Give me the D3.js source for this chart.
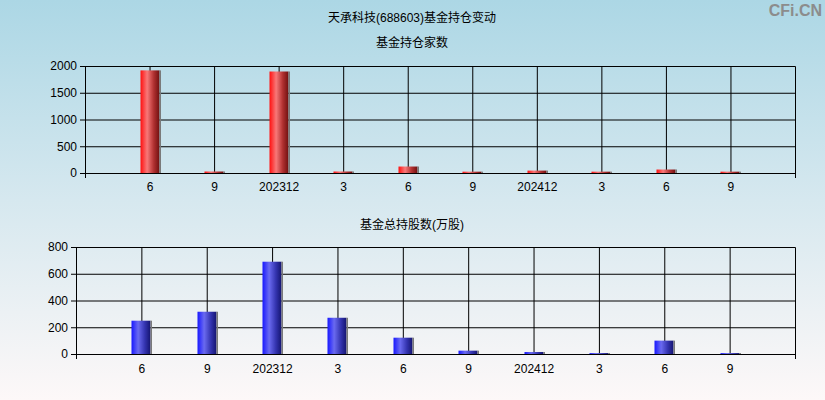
<!DOCTYPE html>
<html><head><meta charset="utf-8">
<script src="https://cdn.jsdelivr.net/npm/d3@7"></script>
<style>body{margin:0;padding:0;overflow:hidden}svg{display:block}text{font-family:"Liberation Sans",Arial,"Noto Sans CJK SC",sans-serif}</style>
</head><body>
<script>
// ---- data ----
const quarters   = ["2023-06","2023-09","2023-12","2024-03","2024-06","2024-09","2024-12","2025-03","2025-06","2025-09"];
const tickLabels = ["6","9","202312","3","6","9","202412","3","6","9"];
const fundCounts = [1918, 28, 1897, 28, 121, 25, 45, 25, 65, 25];
const fundShares = [249, 316, 690, 271, 122, 25, 15, 7, 100, 7];
const countTicks = [0, 500, 1000, 1500, 2000];
const shareTicks = [0, 200, 400, 600, 800];
const mainTitle = "天承科技(688603)基金持仓变动";
const countTitle = "基金持仓家数";
const shareTitle = "基金总持股数(万股)";

const W = 825, H = 400;
const svg = d3.select("body").append("svg").attr("width", W).attr("height", H);
const defs = svg.append("defs");

const bg = defs.append("linearGradient").attr("id","bg").attr("x1",0).attr("y1",0).attr("x2",0).attr("y2",1);
bg.append("stop").attr("offset","0%").attr("stop-color","#acd7e5");
bg.append("stop").attr("offset","50%").attr("stop-color","#d6e8ef");
bg.append("stop").attr("offset","100%").attr("stop-color","#fdf8f8");

function barGrad(id, c1, c2, c3, c4){
  const g = defs.append("linearGradient").attr("id",id).attr("x1",0).attr("y1",0).attr("x2",1).attr("y2",0);
  g.append("stop").attr("offset","0%").attr("stop-color",c1);
  g.append("stop").attr("offset","35%").attr("stop-color",c2);
  g.append("stop").attr("offset","70%").attr("stop-color",c3);
  g.append("stop").attr("offset","100%").attr("stop-color",c4);
}
barGrad("red", "#ff1010", "#f87878", "#b03030", "#701010");
barGrad("blue", "#1818ff", "#6a6af0", "#3434b0", "#141470");

svg.append("rect").attr("width",W).attr("height",H).attr("fill","url(#bg)");

svg.append("text").attr("x",412).attr("y",22).attr("text-anchor","middle").attr("font-size",12).attr("fill","#000").text(mainTitle);
svg.append("text").attr("x",822).attr("y",16).attr("text-anchor","end").attr("font-size",16).attr("font-weight","bold").attr("fill","#8c8c8c").text("CFi.CN");

function panel(cfg){
  const {left,right,top,bottom,values,yTicks,grad,title,titleY,labelPad} = cfg;
  const g = svg.append("g");
  const x = d3.scaleLinear().domain([0, quarters.length + 1]).range([left, right]);
  const y = d3.scaleLinear().domain([0, d3.max(yTicks)]).range([bottom, top]);

  g.append("text").attr("x",412).attr("y",titleY).attr("text-anchor","middle").attr("font-size",12).attr("fill","#000").text(title);

  // horizontal grid
  const hg = g.append("g").attr("transform",`translate(${left},0)`)
    .call(d3.axisLeft(y).tickValues(yTicks).tickSize(-(right-left)).tickFormat(""));
  hg.select(".domain").remove();
  hg.selectAll("line").attr("stroke","#000");

  // vertical grid
  const vg = g.append("g").attr("transform",`translate(0,${bottom})`)
    .call(d3.axisBottom(x).tickValues(d3.range(1, quarters.length + 1)).tickSize(-(bottom-top)).tickFormat(""));
  vg.select(".domain").remove();
  vg.selectAll("line").attr("stroke","#000");

  // y axis with labels
  const ya = g.append("g").attr("transform",`translate(${left},0)`)
    .call(d3.axisLeft(y).tickValues(yTicks).tickFormat(d3.format("d")).tickSize(5).tickPadding(3));
  ya.select(".domain").attr("stroke","#000");
  ya.selectAll("line").attr("stroke","#000");
  ya.selectAll("text").attr("font-size",12).attr("fill","#000").attr("font-family",'"Liberation Sans",Arial,sans-serif');

  // x axis end ticks
  const xe = g.append("g").attr("transform",`translate(0,${bottom})`)
    .call(d3.axisBottom(x).tickValues([0, quarters.length + 1]).tickSize(5).tickFormat(""));
  xe.selectAll("line").attr("stroke","#000");
  xe.select(".domain").remove();

  // right and top borders
  const ra = g.append("g").attr("transform",`translate(${right},0)`)
    .call(d3.axisRight(y).tickValues([]).tickSizeOuter(0));
  ra.select(".domain").attr("stroke","#000");
  const ta = g.append("g").attr("transform",`translate(0,${top})`)
    .call(d3.axisTop(x).tickValues([]).tickSizeOuter(0));
  ta.select(".domain").attr("stroke","#000");

  // bars
  const bw = 19;
  const bars = g.append("g");
  quarters.forEach((q,i)=>{
    const cx = Math.round(x(i+1)) + 0.5;
    const y0 = y(0) + 0.5, y1 = y(values[i]);
    const h = Math.max(1, y0 - y1);
    bars.append("rect").attr("x",cx - 10).attr("y",y0 - h).attr("width",bw).attr("height",h).attr("fill",`url(#${grad})`);
    bars.append("rect").attr("x",cx - 10 + bw).attr("y",y0 - h).attr("width",1.5).attr("height",h).attr("fill","#7a7a7a");
  });
  // baseline redraw
  g.append("g").attr("transform",`translate(0,${bottom})`)
    .call(d3.axisBottom(x).tickValues([]).tickSizeOuter(0))
    .select(".domain").attr("stroke","#000");

  // x labels
  const xl = g.append("g").attr("transform",`translate(0,${bottom})`)
    .call(d3.axisBottom(x).tickValues(d3.range(1, quarters.length + 1)).tickFormat(d=>tickLabels[d-1]).tickSize(0).tickPadding(labelPad));
  xl.select(".domain").remove();
  xl.selectAll("text").attr("font-size",12).attr("fill","#000").attr("font-family",'"Liberation Sans",Arial,sans-serif');
}

panel({left:85,right:795,top:66,bottom:173,values:fundCounts,yTicks:countTicks,grad:"red",title:countTitle,titleY:47,labelPad:9});
panel({left:76,right:795,top:247,bottom:354,values:fundShares,yTicks:shareTicks,grad:"blue",title:shareTitle,titleY:229,labelPad:10});
</script>
</body></html>
